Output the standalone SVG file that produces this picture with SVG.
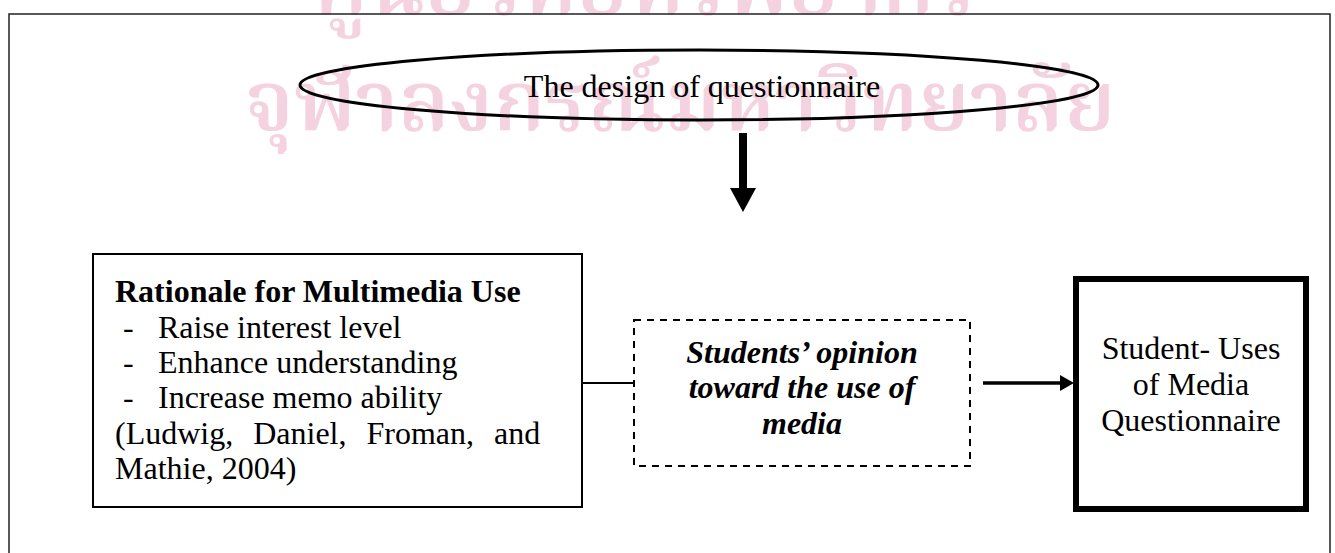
<svg xmlns="http://www.w3.org/2000/svg" width="1335" height="553" viewBox="0 0 1335 553">
<style>
.t{font-family:"Liberation Serif","Times New Roman",serif;font-size:32px;fill:#000}
.b{font-weight:bold}
.bi{font-weight:bold;font-style:italic}
.wm{font-family:"Noto Serif Thai","Noto Sans Thai Looped","Noto Sans Thai",sans-serif;font-size:84px;font-weight:600;fill:#f4d2df}
.box{fill:none;stroke:#000}
</style>
<rect width="1335" height="553" fill="#fff"/>
<g id="watermark">
<text class="wm" x="645" y="14" text-anchor="middle">ศูนย์วิทยทรัพยากร</text>
<text class="wm" x="680" y="130" text-anchor="middle">จุฬาลงกรณ์มหาวิทยาลัย</text>
</g>
<path id="frame" d="M9,553 V14 H1330 V553" fill="none" stroke="#222" stroke-width="1.5"/>
<g id="design">
<ellipse cx="699" cy="85" rx="399" ry="35" fill="none" stroke="#000" stroke-width="3"/>
<text class="t" x="702" y="97" text-anchor="middle">The design of questionnaire</text>
</g>
<g id="rationale">
<rect class="box" x="93" y="254" width="489" height="253" stroke-width="2"/>
<text class="t b" x="115" y="302">Rationale for Multimedia Use</text>
<text class="t" x="123" y="338">-</text><text class="t" x="158" y="338">Raise interest level</text>
<text class="t" x="123" y="373">-</text><text class="t" x="158" y="373">Enhance understanding</text>
<text class="t" x="123" y="408">-</text><text class="t" x="158" y="408">Increase memo ability</text>
<text class="t" x="115" y="444" word-spacing="12">(Ludwig, Daniel, Froman, and</text>
<text class="t" x="115" y="479">Mathie, 2004)</text>
</g>
<g id="opinion">
<rect class="box" x="634" y="320" width="336" height="146" stroke-width="2" stroke-dasharray="7 6"/>
<text class="t bi" x="802" y="363" text-anchor="middle">Students’ opinion</text>
<text class="t bi" x="802" y="398" text-anchor="middle">toward the use of</text>
<text class="t bi" x="802" y="434" text-anchor="middle">media</text>
</g>
<g id="questionnaire">
<rect class="box" x="1076" y="279" width="230" height="230" stroke-width="6"/>
<text class="t" x="1191" y="359" text-anchor="middle">Student- Uses</text>
<text class="t" x="1191" y="395" text-anchor="middle">of Media</text>
<text class="t" x="1191" y="431" text-anchor="middle">Questionnaire</text>
</g>
<g id="connectors">
<rect x="739" y="133" width="8" height="56" fill="#000"/>
<polygon points="730,188 756,188 743,212" fill="#000"/>
<line x1="582" y1="383" x2="634" y2="383" stroke="#000" stroke-width="1.8"/>
<line x1="983" y1="383" x2="1062" y2="383" stroke="#000" stroke-width="3.5"/>
<polygon points="1060,375 1074,383 1060,391" fill="#000"/>
</g>
</svg>
